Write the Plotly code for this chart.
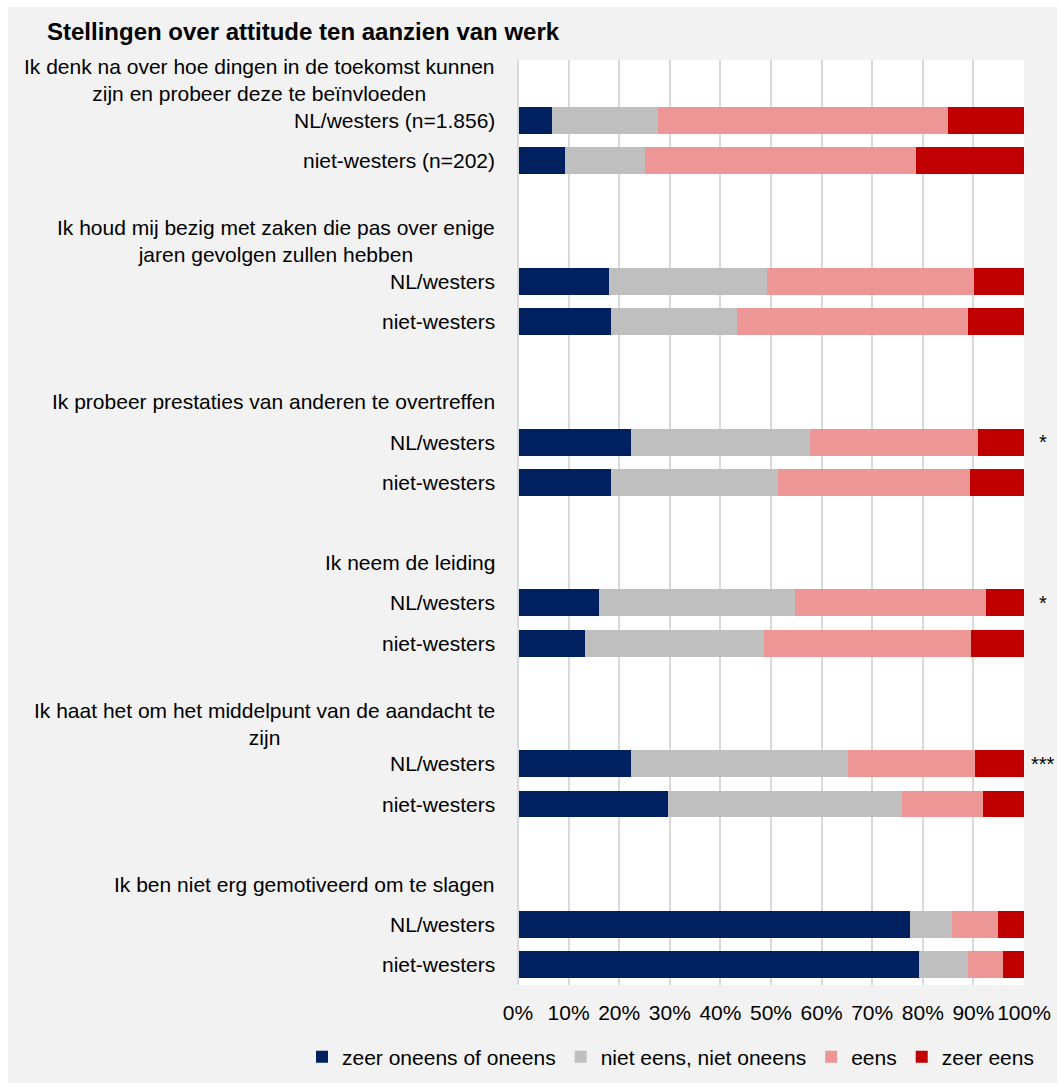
import plotly.graph_objects as go

# ---- data ----
statements = [
    "Ik denk na over hoe dingen in de toekomst kunnen<br>zijn en probeer deze te beïnvloeden",
    "Ik houd mij bezig met zaken die pas over enige<br>jaren gevolgen zullen hebben",
    "Ik probeer prestaties van anderen te overtreffen",
    "Ik neem de leiding",
    "Ik haat het om het middelpunt van de aandacht te<br>zijn",
    "Ik ben niet erg gemotiveerd om te slagen",
]
group_labels = [
    "NL/westers (n=1.856)", "niet-westers (n=202)",
    "NL/westers", "niet-westers",
    "NL/westers", "niet-westers",
    "NL/westers", "niet-westers",
    "NL/westers", "niet-westers",
    "NL/westers", "niet-westers",
]
significance = ["", "", "", "", "*", "", "*", "", "***", "", "", ""]

series_names = ["zeer oneens of oneens", "niet eens, niet oneens", "eens", "zeer eens"]
zeer_oneens_of_oneens = [6.8, 9.2, 18.0, 18.4, 22.3, 18.3, 16.1, 13.3, 22.4, 29.6, 77.4, 79.2]
niet_eens_niet_oneens = [20.8, 15.9, 31.3, 24.9, 35.5, 33.0, 38.6, 35.3, 42.9, 46.3, 8.3, 9.7]
eens = [57.4, 53.5, 40.9, 45.6, 33.1, 38.0, 37.8, 40.9, 25.1, 16.0, 9.2, 7.0]
zeer_eens = [15.0, 21.4, 9.8, 11.1, 9.1, 10.7, 7.5, 10.5, 9.6, 8.1, 5.1, 4.1]
series_values = [zeer_oneens_of_oneens, niet_eens_niet_oneens, eens, zeer_eens]
colors = ["#002060", "#BFBFBF", "#EC9796", "#C00000"]

x_ticks = [0, 10, 20, 30, 40, 50, 60, 70, 80, 90, 100]
x_ticktext = [f"{v}%" for v in x_ticks]

# ---- layout helpers ----
FONT = "Liberation Sans, Arial, sans-serif"
W, H = 1061, 1088
L, R, T, B = 518, 1024, 60, 985

bar_rows = [4 * (i // 2) + 1 + (i % 2) for i in range(len(group_labels))]
head_rows = [4 * g for g in range(len(statements))]

fig = go.Figure()
for name, vals, col in zip(series_names, series_values, colors):
    fig.add_trace(go.Bar(
        x=vals, y=bar_rows, orientation="h", name=name,
        marker=dict(color=col, line=dict(width=0)), width=0.67,
        hoverinfo="x+name",
    ))

def px_to_paper_x(px):
    return (px - L) / (R - L)

def px_to_paper_y(py):
    return (B - py) / (B - T)

annotations = []
for row, text in zip(head_rows, statements):
    annotations.append(dict(
        text=text, x=px_to_paper_x(497), xref="paper", y=row, yref="y",
        xanchor="right", yanchor="middle", align="center", showarrow=False,
        font=dict(family=FONT, size=21, color="#000000"),
    ))
for row, text, sig in zip(bar_rows, group_labels, significance):
    annotations.append(dict(
        text=text, x=px_to_paper_x(497), xref="paper", y=row, yref="y",
        xanchor="right", yanchor="middle", showarrow=False,
        font=dict(family=FONT, size=21, color="#000000"),
    ))
    if sig:
        annotations.append(dict(
            text=sig, x=px_to_paper_x(1043), xref="paper", y=row, yref="y",
            xanchor="center", yanchor="middle", showarrow=False,
            font=dict(family=FONT, size=20, color="#000000"),
        ))

fig.update_layout(
    width=W, height=H,
    margin=dict(l=L, r=W - R, t=T, b=H - B, pad=0, autoexpand=False),
    paper_bgcolor="#FFFFFF",
    plot_bgcolor="#FFFFFF",
    barmode="stack",
    bargap=0,
    font=dict(family=FONT, size=21, color="#000000"),
    title=dict(
        text="<b>Stellingen over attitude ten aanzien van werk</b>",
        x=47 / W, xref="container", xanchor="left",
        y=1 - 32 / H, yref="container", yanchor="middle",
        font=dict(family=FONT, size=24, color="#000000"),
    ),
    xaxis=dict(
        range=[0, 100], tickvals=x_ticks, ticktext=x_ticktext,
        showgrid=True, gridcolor="#D9D9D9", gridwidth=2,
        zeroline=False, showline=False, ticks="",
        tickfont=dict(family=FONT, size=21, color="#000000"),
        ticklabelstandoff=13, fixedrange=True,
    ),
    yaxis=dict(
        range=[22.5, -0.5], showticklabels=False, showgrid=False,
        zeroline=False, showline=False, ticks="", fixedrange=True,
    ),
    showlegend=True,
    legend=dict(
        orientation="h", x=px_to_paper_x(302), xanchor="left",
        y=px_to_paper_y(1057), yanchor="middle",
        font=dict(family=FONT, size=21, color="#000000"),
        bgcolor="rgba(0,0,0,0)", traceorder="normal", itemwidth=30,
    ),
    annotations=annotations,
    shapes=[
        dict(type="rect", xref="paper", yref="paper",
             x0=px_to_paper_x(8), x1=px_to_paper_x(1057),
             y0=px_to_paper_y(1083), y1=px_to_paper_y(7),
             fillcolor="#F2F2F2", line=dict(width=0), layer="below"),
        dict(type="rect", xref="paper", yref="paper",
             x0=0, x1=1, y0=0, y1=1,
             fillcolor="#FFFFFF", line=dict(width=0), layer="below"),
        dict(type="line", xref="paper", yref="paper",
             x0=0, x1=0, y0=0, y1=1,
             line=dict(color="#D9D9D9", width=2), layer="above"),
    ],
)

fig.write_html("out.html")
